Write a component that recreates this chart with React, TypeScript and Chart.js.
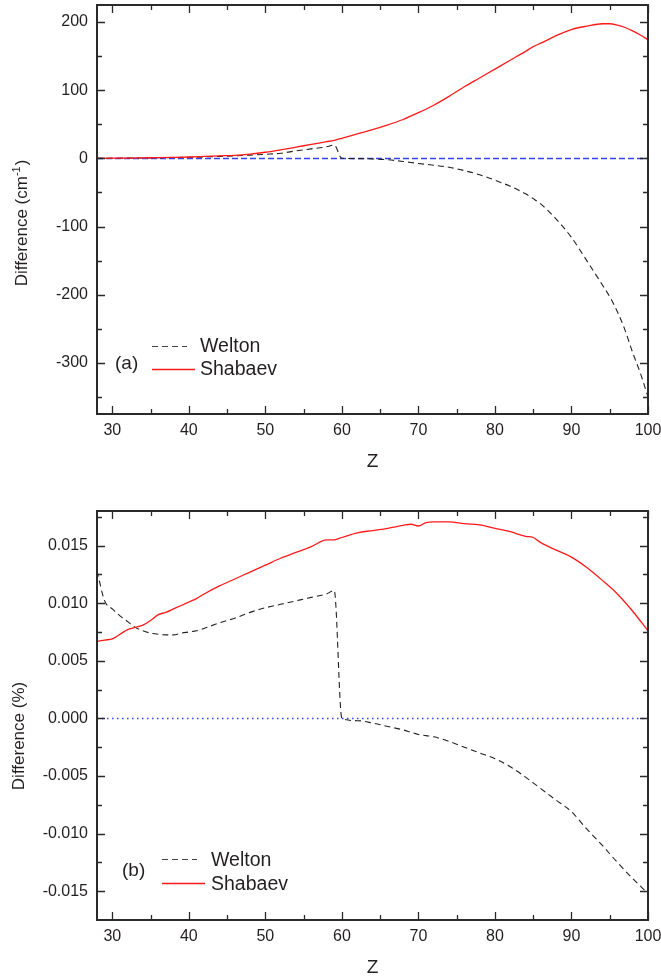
import React, { useEffect, useRef } from 'react';
import { Chart, registerables } from 'chart.js';

Chart.register(...registerables);

// ---------- data ----------
const Z_TOP = [28, 30, 32, 34, 36, 38, 40, 42, 44, 46, 48, 50, 52, 54, 56, 58, 59, 60, 62, 64, 66, 68, 70, 72, 74, 76, 78, 80, 82, 84, 85, 86, 88, 90, 92, 94, 95, 96, 97, 98, 99, 100];
const WELTON_CM = [0.1, 0.2, 0.4, 0.6, 0.9, 1.2, 1.6, 2.2, 2.9, 3.8, 4.8, 6.0, 7.5, 11, 14, 17, 19.5, 0, -0.3, -0.8, -2, -4.5, -7.5, -10, -13, -18, -24, -32, -41, -52, -59, -67, -89, -116, -150, -185, -203, -225, -252, -285, -315, -350];
const SHABAEV_CM = [0.1, 0.3, 0.5, 0.8, 1.1, 1.5, 2.0, 2.8, 3.7, 4.5, 6.3, 9, 12.5, 16.5, 20.5, 24.5, 26.5, 29.5, 36, 42, 49, 57, 67, 78, 91, 105, 118, 131, 144, 157, 164, 169, 180, 189, 194, 197.5, 197.5, 195.5, 192, 187, 181, 174];

const Z_BOT = [28, 29, 30, 31, 32, 33, 34, 35, 36, 37, 38, 39, 40, 41, 42, 44, 46, 48, 50, 52, 54, 56, 58, 59, 60, 62, 64, 66, 68, 69, 70, 71, 72, 74, 76, 78, 80, 82, 84, 85, 86, 88, 90, 92, 94, 96, 98, 100];
const WELTON_PCT = [0.0128, 0.0102, 0.0095, 0.0089, 0.0084, 0.0079, 0.0076, 0.0074, 0.0073, 0.00725, 0.00725, 0.0074, 0.0075, 0.0076, 0.0078, 0.0083, 0.0087, 0.0092, 0.0096, 0.0099, 0.0102, 0.0105, 0.0108, 0.0111, 0.0, -0.0002, -0.0004, -0.0007, -0.001, -0.0012, -0.0014, -0.0015, -0.0016, -0.002, -0.0025, -0.003, -0.0035, -0.0042, -0.0051, -0.0056, -0.0061, -0.0071, -0.0081, -0.0096, -0.011, -0.0125, -0.0139, -0.0152];
const SHABAEV_PCT = [0.00669, 0.0068, 0.0069, 0.0073, 0.0077, 0.0079, 0.0081, 0.0085, 0.009, 0.0092, 0.0095, 0.0098, 0.0101, 0.0104, 0.0108, 0.0115, 0.0121, 0.0127, 0.0133, 0.0139, 0.0144, 0.0149, 0.0155, 0.0155, 0.0157, 0.0161, 0.0163, 0.0165, 0.01675, 0.01685, 0.0167, 0.017, 0.01705, 0.01705, 0.0169, 0.0168, 0.0165, 0.0162, 0.0158, 0.0157, 0.01525, 0.0146, 0.014, 0.0131, 0.012, 0.0108, 0.0093, 0.0076];

const BASE_Z = [28, 100];
const BASE_VALUES = [0, 0];

const X_TICKS = [30, 40, 50, 60, 70, 80, 90, 100];
const X_MINOR = [35, 45, 55, 65, 75, 85, 95];
const Y_TICKS_CM = [-300, -200, -100, 0, 100, 200];
const Y_MINOR_CM = [-350, -250, -150, -50, 50, 150];
const Y_TICKS_PCT = [-0.015, -0.01, -0.005, 0, 0.005, 0.01, 0.015];
const Y_MINOR_PCT = [-0.0125, -0.0075, -0.0025, 0.0025, 0.0075, 0.0125, 0.0175];

const LEGEND_LABELS = ['Welton', 'Shabaev'];

// ---------- styles ----------
const FONT = '"Liberation Sans", Arial, Helvetica, sans-serif';
const TEXT = '#231f20';
const AXIS = '#2a2a2a';
const RED = '#ff1a1a';
const BLACK = '#222222';
const BLUE = '#3344ee';

type PanelProps = {
  height: number;
  padTop: number;
  xAxisH: number;
  z: number[];
  welton: number[];
  shabaev: number[];
  yMin: number;
  yMax: number;
  yTicks: number[];
  yMinor: number[];
  fmt: (v: number) => string;
  baseDash: number[];
  baseWidth: number;
  titleMain: string;
  titleSup: string;
  titleEnd: string;
  titleX: number;
  titleY: number;
  zBase: number;
  legend: { dashY: number; redY: number; x0: number; x1dash: number; x1red: number; textX: number; b1: number; b2: number; lab: string; labX: number; labY: number };
};

function Panel(p: PanelProps) {
  const ref = useRef<HTMLCanvasElement | null>(null);
  useEffect(() => {
    const canvas = ref.current;
    if (!canvas) return;

    const decor = {
      id: 'decor',
      afterDraw(chart: any) {
        const { ctx, chartArea: a, scales } = chart;
        const xs = scales.x;
        const ys = scales.y;
        ctx.save();
        // ticks
        ctx.strokeStyle = AXIS;
        ctx.lineWidth = 1.3;
        const xt = (v: number, len: number) => {
          const px = Math.round(xs.getPixelForValue(v)) + 0.5;
          ctx.beginPath();
          ctx.moveTo(px, a.bottom);
          ctx.lineTo(px, a.bottom - len);
          ctx.moveTo(px, a.top);
          ctx.lineTo(px, a.top + len);
          ctx.stroke();
        };
        const yt = (v: number, len: number) => {
          const py = Math.round(ys.getPixelForValue(v)) + 0.5;
          ctx.beginPath();
          ctx.moveTo(a.left, py);
          ctx.lineTo(a.left + len, py);
          ctx.moveTo(a.right, py);
          ctx.lineTo(a.right - len, py);
          ctx.stroke();
        };
        X_TICKS.forEach((v) => xt(v, 8));
        X_MINOR.forEach((v) => xt(v, 5));
        p.yTicks.forEach((v) => yt(v, 8));
        p.yMinor.forEach((v) => yt(v, 5));
        // frame
        ctx.lineWidth = 2;
        ctx.strokeRect(a.left, a.top, a.right - a.left, a.bottom - a.top);

        // y title (rotated, with superscript)
        ctx.fillStyle = TEXT;
        ctx.save();
        ctx.translate(p.titleX, p.titleY);
        ctx.rotate(-Math.PI / 2);
        ctx.textBaseline = 'alphabetic';
        ctx.textAlign = 'left';
        const mainF = `17px ${FONT}`;
        const supF = `11px ${FONT}`;
        ctx.font = mainF;
        const w1 = ctx.measureText(p.titleMain).width;
        const w3 = ctx.measureText(p.titleEnd).width;
        ctx.font = supF;
        const w2 = p.titleSup ? ctx.measureText(p.titleSup).width + 1 : 0;
        const total = w1 + w2 + w3;
        let cx = -total / 2;
        ctx.font = mainF;
        ctx.fillText(p.titleMain, cx, 0);
        cx += w1;
        if (p.titleSup) {
          ctx.font = supF;
          ctx.fillText(p.titleSup, cx, -7);
          cx += w2;
        }
        ctx.font = mainF;
        ctx.fillText(p.titleEnd, cx, 0);
        ctx.restore();

        // x title
        ctx.font = `19px ${FONT}`;
        ctx.textAlign = 'center';
        ctx.textBaseline = 'alphabetic';
        ctx.fillText('Z', (a.left + a.right) / 2, p.zBase);

        // legend
        const L = p.legend;
        ctx.strokeStyle = '#444';
        ctx.lineWidth = 1.1;
        ctx.setLineDash([6, 4]);
        ctx.beginPath();
        ctx.moveTo(L.x0, L.dashY + 0.5);
        ctx.lineTo(L.x1dash, L.dashY + 0.5);
        ctx.stroke();
        ctx.setLineDash([]);
        ctx.strokeStyle = RED;
        ctx.lineWidth = 1.3;
        ctx.beginPath();
        ctx.moveTo(L.x0, L.redY + 0.5);
        ctx.lineTo(L.x1red, L.redY + 0.5);
        ctx.stroke();
        ctx.fillStyle = TEXT;
        ctx.font = `19.5px ${FONT}`;
        ctx.textAlign = 'left';
        ctx.fillText(LEGEND_LABELS[0], L.textX, L.b1);
        ctx.fillText(LEGEND_LABELS[1], L.textX, L.b2);
        ctx.font = `19px ${FONT}`;
        ctx.fillText(L.lab, L.labX, L.labY);
        ctx.restore();
      },
    };

    const pts = (xs: number[], ys: number[]) => xs.map((x, i) => ({ x, y: ys[i] }));

    const chart = new Chart(canvas, {
      type: 'line',
      data: {
        datasets: [
          {
            label: LEGEND_LABELS[1],
            data: pts(p.z, p.shabaev),
            borderColor: RED,
            borderWidth: 1.3,
            pointRadius: 0,
            cubicInterpolationMode: 'monotone',
            order: 0,
          },
          {
            label: LEGEND_LABELS[0],
            data: pts(p.z, p.welton),
            borderColor: BLACK,
            borderWidth: 1.1,
            borderDash: [6, 4],
            pointRadius: 0,
            cubicInterpolationMode: 'monotone',
            order: 1,
          },
          {
            label: 'zero',
            data: pts(BASE_Z, BASE_VALUES),
            borderColor: BLUE,
            borderWidth: p.baseWidth,
            borderDash: p.baseDash,
            pointRadius: 0,
            order: 2,
          },
        ],
      },
      options: {
        animation: false,
        responsive: false,
        devicePixelRatio: 1,
        events: [],
        layout: { padding: { left: 0, right: 13, top: p.padTop, bottom: 0 } },
        plugins: { legend: { display: false }, tooltip: { enabled: false }, title: { display: false } },
        scales: {
          x: {
            type: 'linear',
            min: 28,
            max: 100,
            grid: { display: false, drawTicks: false },
            border: { display: false },
            ticks: {
              autoSkip: false,
              maxRotation: 0,
              padding: 7,
              color: TEXT,
              font: { family: FONT, size: 16 },
              callback: (v: any) => String(v),
            },
            afterBuildTicks: (s: any) => {
              s.ticks = X_TICKS.map((v) => ({ value: v }));
            },
            afterFit: (s: any) => {
              s.height = p.xAxisH;
              s.paddingLeft = 0;
              s.paddingRight = 0;
              s.paddingTop = 0;
              s.paddingBottom = 0;
            },
          },
          y: {
            type: 'linear',
            min: p.yMin,
            max: p.yMax,
            grid: { display: false, drawTicks: false },
            border: { display: false },
            ticks: {
              autoSkip: false,
              padding: 9,
              color: TEXT,
              font: { family: FONT, size: 16 },
              callback: (v: any) => p.fmt(Number(v)),
            },
            afterBuildTicks: (s: any) => {
              s.ticks = p.yTicks.map((v) => ({ value: v }));
            },
            afterFit: (s: any) => {
              s.width = 97;
              s.paddingLeft = 0;
              s.paddingRight = 0;
              s.paddingTop = 0;
              s.paddingBottom = 0;
            },
          },
        },
      } as any,
      plugins: [decor],
    });
    return () => chart.destroy();
  }, []);
  return <canvas ref={ref} width={661} height={p.height} style={{ display: 'block', width: 661, height: p.height }} />;
}

export default function App() {
  return (
    <div style={{ position: 'absolute', left: 0, top: 0, width: 661, height: 977, background: '#fff' }}>
      <Panel
        height={488}
        padTop={5}
        xAxisH={74}
        z={Z_TOP}
        welton={WELTON_CM}
        shabaev={SHABAEV_CM}
        yMin={-375}
        yMax={225}
        yTicks={Y_TICKS_CM}
        yMinor={Y_MINOR_CM}
        fmt={(v) => String(Math.round(v))}
        baseDash={[6, 3]}
        baseWidth={1.5}
        titleMain="Difference (cm"
        titleSup="-1"
        titleEnd=")"
        titleX={27}
        titleY={223}
        zBase={467}
        legend={{ dashY: 346, redY: 369, x0: 152, x1dash: 187, x1red: 195, textX: 200, b1: 352, b2: 375, lab: '(a)', labX: 115, labY: 369 }}
      />
      <Panel
        height={489}
        padTop={23}
        xAxisH={57}
        z={Z_BOT}
        welton={WELTON_PCT}
        shabaev={SHABAEV_PCT}
        yMin={-0.0175}
        yMax={0.018}
        yTicks={Y_TICKS_PCT}
        yMinor={Y_MINOR_PCT}
        fmt={(v) => (Math.abs(v) < 1e-9 ? '0.000' : v.toFixed(3))}
        baseDash={[1.5, 3.5]}
        baseWidth={1.5}
        titleMain="Difference (%)"
        titleSup=""
        titleEnd=""
        titleX={24}
        titleY={248}
        zBase={485}
        legend={{ dashY: 371, redY: 395, x0: 162, x1dash: 197, x1red: 205, textX: 211, b1: 378, b2: 402, lab: '(b)', labX: 122, labY: 388 }}
      />
    </div>
  );
}
